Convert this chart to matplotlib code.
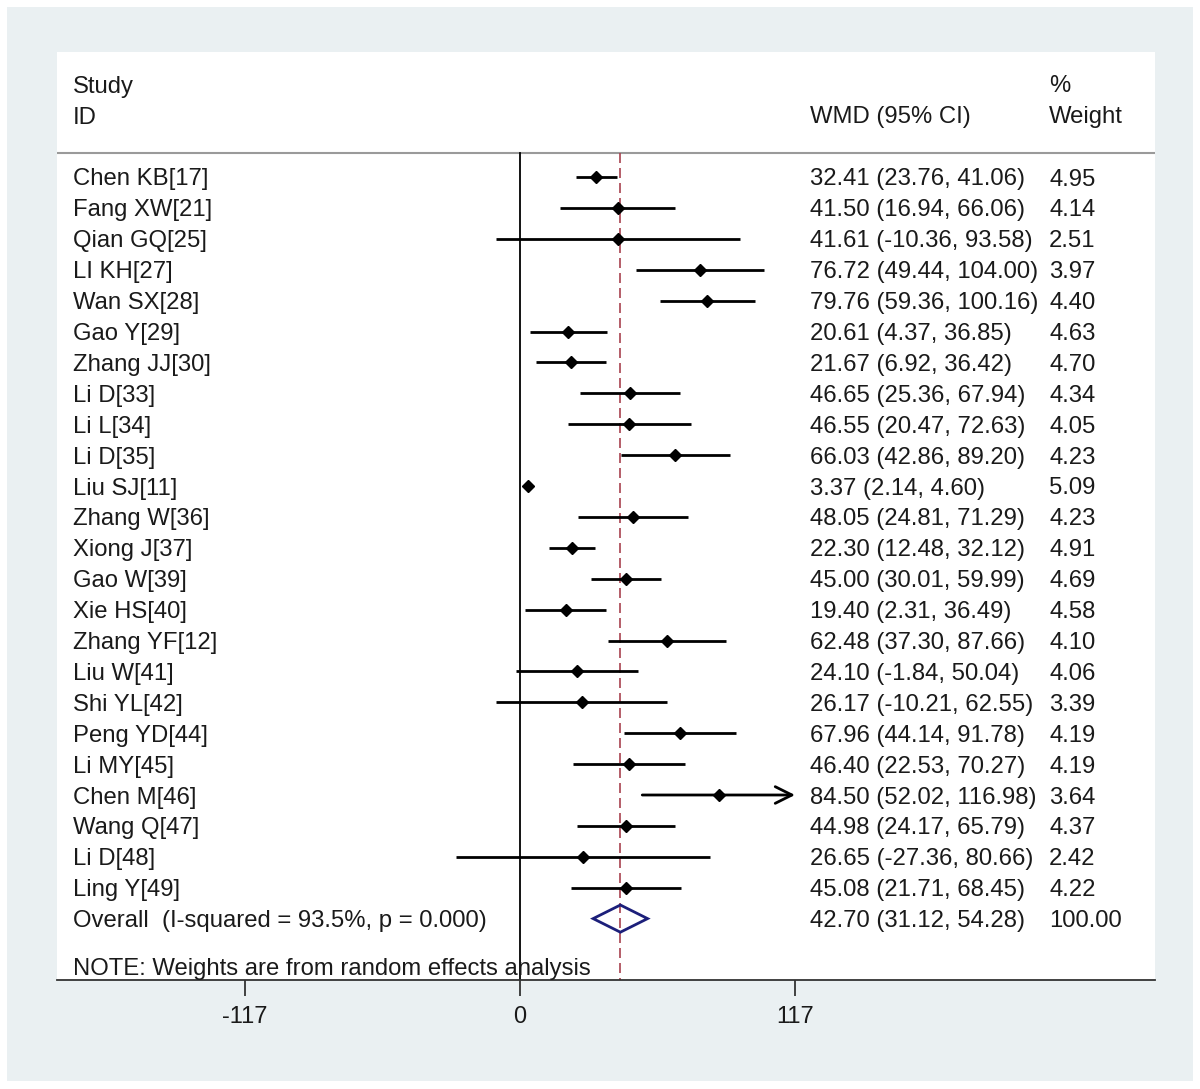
import matplotlib
matplotlib.use("Agg")
import matplotlib.pyplot as plt
from matplotlib.patches import Rectangle, Polygon

plt.rcParams['font.family'] = ['Liberation Sans', 'DejaVu Sans']

# ---- data ----
studies = ["Chen KB[17]", "Fang XW[21]", "Qian GQ[25]", "LI KH[27]", "Wan SX[28]",
           "Gao Y[29]", "Zhang JJ[30]", "Li D[33]", "Li L[34]", "Li D[35]",
           "Liu SJ[11]", "Zhang W[36]", "Xiong J[37]", "Gao W[39]", "Xie HS[40]",
           "Zhang YF[12]", "Liu W[41]", "Shi YL[42]", "Peng YD[44]", "Li MY[45]",
           "Chen M[46]", "Wang Q[47]", "Li D[48]", "Ling Y[49]"]
wmd = [32.41, 41.50, 41.61, 76.72, 79.76, 20.61, 21.67, 46.65, 46.55, 66.03,
       3.37, 48.05, 22.30, 45.00, 19.40, 62.48, 24.10, 26.17, 67.96, 46.40,
       84.50, 44.98, 26.65, 45.08]
ci_low = [23.76, 16.94, -10.36, 49.44, 59.36, 4.37, 6.92, 25.36, 20.47, 42.86,
          2.14, 24.81, 12.48, 30.01, 2.31, 37.30, -1.84, -10.21, 44.14, 22.53,
          52.02, 24.17, -27.36, 21.71]
ci_high = [41.06, 66.06, 93.58, 104.00, 100.16, 36.85, 36.42, 67.94, 72.63, 89.20,
           4.60, 71.29, 32.12, 59.99, 36.49, 87.66, 50.04, 62.55, 91.78, 70.27,
           116.98, 65.79, 80.66, 68.45]
weights = [4.95, 4.14, 2.51, 3.97, 4.40, 4.63, 4.70, 4.34, 4.05, 4.23,
           5.09, 4.23, 4.91, 4.69, 4.58, 4.10, 4.06, 3.39, 4.19, 4.19,
           3.64, 4.37, 2.42, 4.22]
overall = 42.70
overall_low = 31.12
overall_high = 54.28
i_squared = 93.5
p_value = 0.000
axis_limit = 117
plot_range = 116.9  # CIs reaching past this get an arrow

W, H, DPI = 1200, 1089, 100
fig = plt.figure(figsize=(W / DPI, H / DPI), dpi=DPI, facecolor='white')
fig.patches.append(Rectangle((7 / W, 8 / H), 1186 / W, 1074 / H,
                             transform=fig.transFigure, facecolor='#eaf0f2',
                             edgecolor='none', zorder=-10))

# white panel / axes: px 57..1155 horizontally, 52..980 vertically
ax = fig.add_axes([57 / W, 1 - 980 / H, 1098 / W, 928 / H])
ax.set_facecolor('white')

px_per_unit = 275 / 117
x0_px = 520 - 57
ax.set_xlim(-x0_px / px_per_unit, (1098 - x0_px) / px_per_unit)
row0, row_h = 177 - 52, 30.9
ax.set_ylim((928 - row0) / row_h, -row0 / row_h)

for s in ['top', 'left', 'right']:
    ax.spines[s].set_visible(False)
ax.spines['bottom'].set_color('#333333')
ax.spines['bottom'].set_linewidth(1.3)
ax.set_yticks([])
ax.set_xticks([-axis_limit, 0, axis_limit])
ax.set_xticklabels([str(-axis_limit), '0', str(axis_limit)])
ax.tick_params(axis='x', direction='out', length=11.5, width=1.3, color='#333333',
               labelsize=17, labelcolor='#1a1a1a', pad=7)

header_y = (153 - 177) / row_h
ax.axhline(header_y, color='#9a9a9a', lw=1.5)
ax.plot([0, 0], [header_y, ax.get_ylim()[0]], color='black', lw=1.3, zorder=2)
ax.plot([overall, overall], [header_y, ax.get_ylim()[0]], color='#a8424f', lw=1.2,
        dashes=(6, 3), zorder=2)

txt = dict(color='#1a1a1a', fontsize=17.2, va='baseline', transform=ax.transData)
base = 8.5 / row_h  # baseline offset so cap centre sits on the row
col_name = ax.get_xlim()[0] + 16 / px_per_unit
col_wmd = (810 - 520) / px_per_unit
col_wt = (1049 - 520) / px_per_unit

for i, name in enumerate(studies):
    lo, hi = ci_low[i], ci_high[i]
    if hi >= plot_range:
        ax.annotate('', xy=(axis_limit, i), xytext=(lo, i),
                    arrowprops=dict(arrowstyle='->', lw=2, color='black',
                                    mutation_scale=30, shrinkA=0, shrinkB=0))
    else:
        ax.plot([lo, hi], [i, i], color='black', lw=2, solid_capstyle='butt')
    ax.plot(wmd[i], i, marker='D', ms=6, color='black', zorder=3)
    ax.text(col_name, i + base, name, **txt)
    ax.text(col_wmd, i + base, f"{wmd[i]:.2f} ({lo:.2f}, {hi:.2f})", **txt)
    ax.text(col_wt, i + base, f"{weights[i]:.2f}", **txt)

n = len(studies)
ax.add_patch(Polygon([[overall_low, n], [overall, n - 0.44], [overall_high, n],
                      [overall, n + 0.44]], closed=True, facecolor='none',
                     edgecolor='#1c1f7a', lw=2, zorder=3))
ax.text(col_name, n + base, f"Overall  (I-squared = {i_squared:.1f}%, p = {p_value:.3f})", **txt)
ax.text(col_wmd, n + base, f"{overall:.2f} ({overall_low:.2f}, {overall_high:.2f})", **txt)
ax.text(col_wt, n + base, "100.00", **txt)

ax.text(col_name, (966 - 177) / row_h + base,
        "NOTE: Weights are from random effects analysis", **txt)

ax.text(col_name, (84 - 177) / row_h + base, "Study", **txt)
ax.text(col_name, (115 - 177) / row_h + base, "ID", **txt)
ax.text(col_wmd, (115 - 177) / row_h + base, "WMD (95% CI)", **txt)
ax.text(col_wt, (84 - 177) / row_h + base, "%", **txt)
ax.text(col_wt, (115 - 177) / row_h + base, "Weight", **txt)

fig.savefig('out.png', dpi=DPI, facecolor=fig.get_facecolor())
